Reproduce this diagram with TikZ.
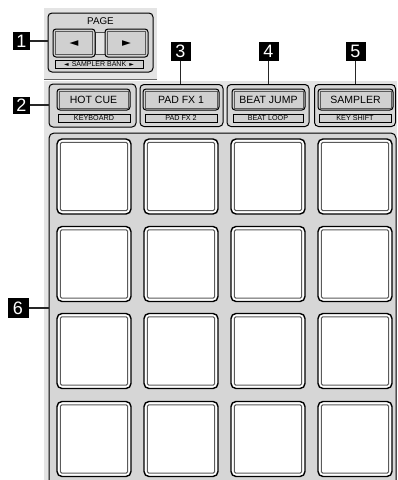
\documentclass[tikz,border=0pt]{standalone}
\usepackage{fontspec}
\setmainfont{Liberation Sans}
\newfontfamily\symfont{DejaVu Sans}
\definecolor{bglight}{HTML}{E4E4E4}
\definecolor{panelgray}{HTML}{D6D6D6}
\definecolor{btngray}{HTML}{D0D0D0}
\definecolor{innerline}{HTML}{5A5A5A}
\begin{document}
\begin{tikzpicture}[x=1pt,y=-1pt,
  numbox/.style={fill=black,text=white,inner sep=0pt,font=\fontsize{18}{18}\selectfont},
  leader/.style={line width=1.2pt,draw=black!85},
  rowpanel/.style={draw=black,line width=1pt,rounded corners=4pt,fill=panelgray,inner sep=0pt},
  btn/.style={draw=black,line width=1pt,rounded corners=3pt,fill=btngray,inner sep=0pt,font=\fontsize{10.5}{10.5}\selectfont},
  lblbox/.style={draw=black,line width=0.8pt,fill=btngray,inner sep=0pt,font=\fontsize{7.2}{7.2}\selectfont},
  pad/.style={draw=black,line width=1.4pt,rounded corners=5pt,fill=white,minimum width=74pt,minimum height=75pt,inner sep=0pt},
  padin/.style={draw=innerline,line width=1pt,rounded corners=1.5pt},
  btnin/.style={draw=innerline,line width=0.8pt}
]
\useasboundingbox (0,0) rectangle (397,480);
\clip (0,0) rectangle (397,480);

% light backgrounds
\fill[bglight] (44,8) rectangle (157,79);
\fill[bglight] (44,81) rectangle (397,480);
\draw[black!60,line width=1.2pt] (44,79.8) -- (157,79.8);

% ---------- PAGE panel ----------
\node[rowpanel,minimum width=105pt,minimum height=59pt] (page) at (100.5,42.5) {};
\node[font=\fontsize{9.8}{9.8}\selectfont,inner sep=0pt] (pagetxt) at (100.5,21.5) {PAGE};
\node[draw=black!70,line width=0.8pt,fill=bglight,minimum width=10pt,minimum height=22pt,inner sep=0pt] (mid) at (100,43) {};
\node[btn,minimum width=42pt,minimum height=28pt] (pleft) at (74,43) {};
\node[btn,minimum width=43pt,minimum height=28pt] (pright) at (126.5,43) {};
\draw[btnin] ([shift={(3,3)}]pleft.north west) rectangle ([shift={(-3,-3)}]pleft.south east);
\draw[btnin] ([shift={(3,3)}]pright.north west) rectangle ([shift={(-3,-3)}]pright.south east);
\node[inner sep=0pt,font=\symfont\fontsize{11.5}{11.5}\selectfont] (arl) at (74,43.5) {◄};
\node[inner sep=0pt,font=\symfont\fontsize{11.5}{11.5}\selectfont] (arr) at (126.5,43.5) {►};
\node[lblbox,minimum width=88pt,minimum height=8pt,font=\fontsize{7}{7}\selectfont] (bank) at (99,64) {{\symfont\fontsize{6}{6}\selectfont◄}\ \,SAMPLER BANK\ \,{\symfont\fontsize{6}{6}\selectfont►}};

% ---------- button row ----------
\node[rowpanel,minimum width=87pt,minimum height=43pt] (hcp) at (92.5,105.5) {};
\node[rowpanel,minimum width=83pt,minimum height=42pt] (pfp) at (181.5,105.5) {};
\node[rowpanel,minimum width=82pt,minimum height=42pt] (bjp) at (268,105.5) {};
\node[rowpanel,minimum width=81pt,minimum height=42pt] (smp) at (355,105.5) {};

\node[btn,minimum width=73pt,minimum height=21pt] (hc) at (93.5,99.5) {HOT CUE};
\node[btn,minimum width=76pt,minimum height=21pt] (pf) at (181,99.5) {PAD FX 1};
\node[btn,minimum width=73pt,minimum height=21pt] (bj) at (268.5,99.5) {BEAT JUMP};
\node[btn,minimum width=75pt,minimum height=21pt] (sm) at (355.5,99.5) {SAMPLER};
\foreach \b in {hc,pf,bj,sm}{
  \draw[btnin] ([shift={(2.5,2.5)}]\b.north west) rectangle ([shift={(-2.5,-2.5)}]\b.south east);
}
\node[lblbox,minimum width=72pt,minimum height=8pt] (kb) at (94,118) {KEYBOARD};
\node[lblbox,minimum width=72pt,minimum height=8pt] (pf2) at (181,118) {PAD FX 2};
\node[lblbox,minimum width=70pt,minimum height=8pt] (bl) at (268,118) {BEAT LOOP};
\node[lblbox,minimum width=72pt,minimum height=8pt] (ks) at (355,118) {KEY SHIFT};

% ---------- pad panel ----------
\node[draw=black,line width=1pt,rounded corners=5pt,fill=panelgray,minimum width=347pt,minimum height=356pt,inner sep=0pt] (padpanel) at (222.5,311) {};

\foreach \r/\yy in {1/176.5,2/264,3/351,4/439}{
  \foreach \c/\xx in {1/94,2/181,3/268,4/355}{
    \node[pad] (p\r\c) at (\xx,\yy) {};
    \draw[padin] ([shift={(4,4)}]p\r\c.north west) rectangle ([shift={(-4,-4)}]p\r\c.south east);
  }
}

% ---------- number labels ----------
\node[numbox,minimum width=17pt,minimum height=18pt] (n1) at (21.5,41) {1};
\node[numbox,minimum width=17pt,minimum height=17pt] (n2) at (21.5,105) {2};
\node[numbox,minimum width=20pt,minimum height=19pt] (n3) at (180.5,51) {3};
\node[numbox,minimum width=20pt,minimum height=19pt] (n4) at (268.5,51) {4};
\node[numbox,minimum width=20pt,minimum height=19pt] (n5) at (355.5,51) {5};
\node[numbox,minimum width=21pt,minimum height=20pt] (n6) at (18,308) {6};

\draw[leader] (n1.east) -- (n1.east -| page.west);
\draw[leader] (n2.east) -- (n2.east -| hcp.west);
\draw[leader] (n3.south) -- (n3.south |- pfp.north);
\draw[leader] (n4.south) -- (n4.south |- bjp.north);
\draw[leader] (n5.south) -- (n5.south |- smp.north);
\draw[leader] (n6.east) -- (n6.east -| padpanel.west);
\end{tikzpicture}
\end{document}
